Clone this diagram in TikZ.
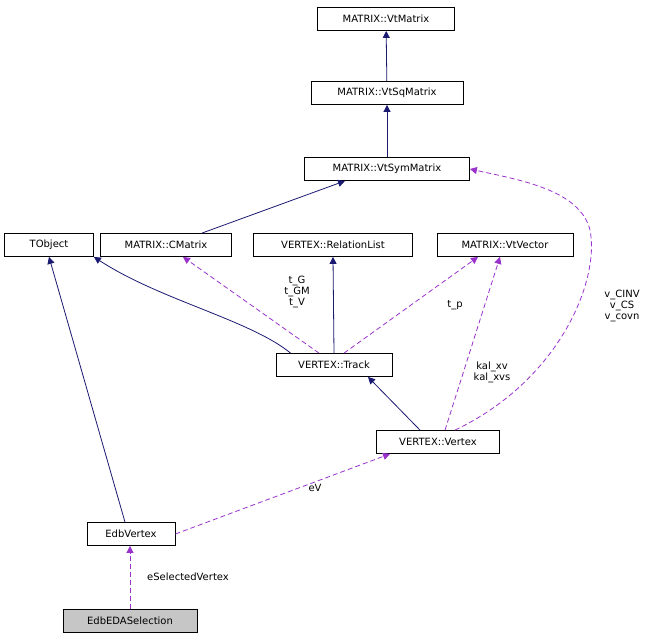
\documentclass[tikz,border=0pt]{standalone}
\usepackage{fontspec}
\setmainfont{DejaVu Sans}
\usetikzlibrary{arrows.meta}
\definecolor{nav}{RGB}{25,25,112}
\definecolor{pur}{RGB}{153,50,204}
\begin{document}
\begin{tikzpicture}[x=1pt,y=-1pt,line width=0.8pt,
 box/.style={draw,fill=white,inner sep=0pt,minimum height=23pt,font=\fontsize{10}{11}\selectfont},
 inh/.style={draw=nav,-{Triangle[length=7pt,width=7pt,fill=nav]}},
 use/.style={draw=pur,dashed,dash pattern=on 5pt off 3pt,-{Triangle[length=7pt,width=7pt,fill=pur]}},
 lab/.style={font=\fontsize{10}{11}\selectfont,align=center,inner sep=1pt}]
\useasboundingbox (0,0) rectangle (653,641);
\node[box,minimum width=137pt] (vm) at (386,19) {MATRIX::VtMatrix};
\node[box,minimum width=152pt] (vsq) at (387,93) {MATRIX::VtSqMatrix};
\node[box,minimum width=165pt] (vsym) at (387,169) {MATRIX::VtSymMatrix};
\node[box,minimum width=89pt] (to) at (49,245) {TObject};
\node[box,minimum width=131pt] (cm) at (166,245) {MATRIX::CMatrix};
\node[box,minimum width=159pt] (rl) at (333,245) {VERTEX::RelationList};
\node[box,minimum width=136pt] (vv) at (505,245) {MATRIX::VtVector};
\node[box,minimum width=116pt] (tr) at (334,365) {VERTEX::Track};
\node[box,minimum width=123pt] (vx) at (438,442) {VERTEX::Vertex};
\node[box,minimum width=88pt] (ev) at (131,534) {EdbVertex};
\node[box,minimum width=134pt,fill=gray!45] (es) at (130,621) {EdbEDASelection};
\draw[inh] (vsq) -- (vm);
\draw[inh] (vsym) -- (vsq);
\draw[inh] (cm.north east) ++(-30,0) coordinate (c1) -- (vsym.south -| 345,0);
\draw[inh] (tr.north) -- (rl.south);
\draw[inh] (tr.north west) ++(15,0) coordinate (t1) .. controls (250,320) and (160,300) .. (to.south east);
\draw[inh] (vx.north) ++(-18,0) coordinate (x1) -- (tr.south -| 368,0);
\draw[inh] (ev.north) ++(-6,0) coordinate (e1) -- (to.south);
\draw[use] (tr.north) ++(-15,0) coordinate (t2) -- (cm.south -| 183,0);
\node[lab] at (297,292) {t\_G\\t\_GM\\t\_V};
\draw[use] (tr.north) ++(10,0) coordinate (t3) -- (vv.south -| 478,0);
\node[lab] at (455,305) {t\_p};
\draw[use] (vx.north) ++(7,0) coordinate (x2) -- (vv.south -| 500,0);
\node[lab] at (492,372) {kal\_xv\\kal\_xvs};
\draw[use] (vx.north) ++(17,0) coordinate (x3) .. controls (560,380) and (600,280) .. (590,230) .. controls (580,190) and (520,180) .. (vsym.east);
\node[lab] at (622,306) {v\_CINV\\v\_CS\\v\_covn};
\draw[use] (ev.east) -- (vx.south -| 390,0);
\node[lab] at (315,488) {eV};
\draw[use] (es.north) -- (ev.south -| 130,0);
\node[lab] at (188,577) {eSelectedVertex};
\end{tikzpicture}
\end{document}
